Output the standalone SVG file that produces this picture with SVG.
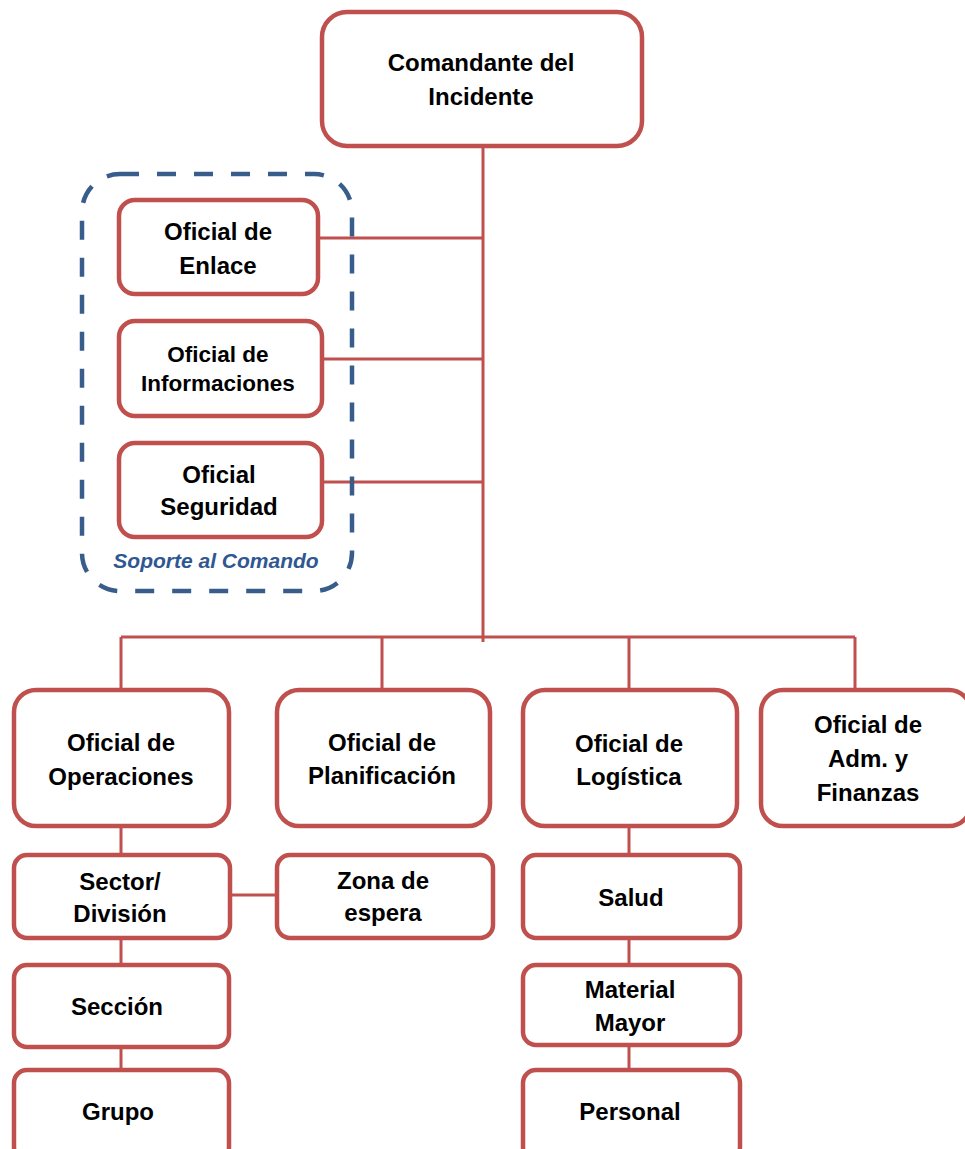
<svg xmlns="http://www.w3.org/2000/svg" width="965" height="1149" viewBox="0 0 965 1149">
<style>
.n{fill:#fff;stroke:#C0504D;stroke-width:4.5}
.c{fill:none;stroke:#C0504D;stroke-width:3}
.t{font-family:"Liberation Sans",Arial,sans-serif;font-weight:bold;font-size:24px;fill:#000;text-anchor:middle}
.s{font-size:22.5px}
.g{fill:none;stroke:#385D8A;stroke-width:4.5;stroke-dasharray:19 18}
.gl{font-family:"Liberation Sans",Arial,sans-serif;font-weight:bold;font-style:italic;font-size:21px;fill:#2F5791;text-anchor:middle}
</style>
<rect width="965" height="1149" fill="#fff"/>
<g id="connectors">
<path class="c" d="M483 146V642M318 238H483M322 359H483M322 482H483M121 637H855M121 637V690M382 637V690M629 637V690M855 637V690M121 826V855M229 895H277M121 938V965M121 1047V1070M629 826V855M629 938V965M629 1045V1070"/>
</g>
<g id="soporte">
<rect class="g" x="82" y="174" width="270" height="417" rx="38"/>
<text class="gl" x="216" y="568">Soporte al Comando</text>
</g>
<g id="comandante"><rect class="n" x="322" y="12" width="320" height="134" rx="25"/><text class="t" x="481" y="71">Comandante del</text><text class="t" x="481" y="105">Incidente</text></g>
<g id="enlace"><rect class="n" x="119" y="200" width="199" height="94" rx="16"/><text class="t" x="218" y="240">Oficial de</text><text class="t" x="218" y="274">Enlace</text></g>
<g id="informaciones"><rect class="n" x="119" y="321" width="203" height="95" rx="16"/><text class="t s" x="218" y="362">Oficial de</text><text class="t s" x="218" y="391">Informaciones</text></g>
<g id="seguridad"><rect class="n" x="119" y="443" width="203" height="94" rx="16"/><text class="t" x="219" y="483">Oficial</text><text class="t" x="219" y="515">Seguridad</text></g>
<g id="operaciones"><rect class="n" x="14" y="690" width="215" height="136" rx="22"/><text class="t" x="121" y="751">Oficial de</text><text class="t" x="121" y="785">Operaciones</text></g>
<g id="planificacion"><rect class="n" x="277" y="690" width="213" height="136" rx="22"/><text class="t" x="382" y="751">Oficial de</text><text class="t" x="382" y="784">Planificación</text></g>
<g id="logistica"><rect class="n" x="523" y="690" width="214" height="136" rx="22"/><text class="t" x="629" y="752">Oficial de</text><text class="t" x="629" y="785">Logística</text></g>
<g id="adm"><rect class="n" x="761" y="690" width="210" height="136" rx="22"/><text class="t" x="868" y="733">Oficial de</text><text class="t" x="868" y="767">Adm. y</text><text class="t" x="868" y="801">Finanzas</text></g>
<g id="sector"><rect class="n" x="14" y="855" width="216" height="83" rx="13"/><text class="t" x="120" y="890">Sector/</text><text class="t" x="120" y="922">División</text></g>
<g id="zona"><rect class="n" x="277" y="855" width="216" height="83" rx="13"/><text class="t" x="383" y="889">Zona de</text><text class="t" x="383" y="921">espera</text></g>
<g id="salud"><rect class="n" x="523" y="855" width="217" height="83" rx="13"/><text class="t" x="631" y="906">Salud</text></g>
<g id="seccion"><rect class="n" x="14" y="965" width="215" height="82" rx="13"/><text class="t" x="117" y="1015">Sección</text></g>
<g id="material"><rect class="n" x="523" y="965" width="217" height="80" rx="13"/><text class="t" x="630" y="998">Material</text><text class="t" x="630" y="1031">Mayor</text></g>
<g id="grupo"><rect class="n" x="14" y="1070" width="215" height="90" rx="13"/><text class="t" x="118" y="1120">Grupo</text></g>
<g id="personal"><rect class="n" x="523" y="1070" width="217" height="90" rx="13"/><text class="t" x="630" y="1120">Personal</text></g>
</svg>
